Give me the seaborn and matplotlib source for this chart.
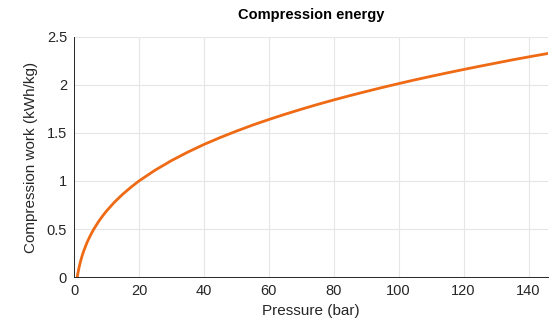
import matplotlib
matplotlib.use("Agg")
import matplotlib.pyplot as plt
import seaborn as sns
import pandas as pd

pressure_bar = [1, 1.2, 1.5, 2, 2.5, 3, 4, 5, 6, 7.5, 8.5, 10, 12.5, 15, 17.5, 20,
                25, 30, 35, 40, 45, 50, 55, 60, 65, 70, 75, 80, 85, 90, 95, 100,
                105, 110, 115, 120, 125, 130, 135, 140, 147]
work_kwh_kg = [0.0, 0.039, 0.091, 0.162, 0.221, 0.272, 0.359, 0.430, 0.493, 0.574,
               0.622, 0.687, 0.781, 0.862, 0.934, 1.000, 1.113, 1.212, 1.300,
               1.380, 1.452, 1.519, 1.582, 1.640, 1.695, 1.747, 1.797, 1.844,
               1.889, 1.932, 1.974, 2.014, 2.053, 2.090, 2.126, 2.161, 2.195,
               2.228, 2.261, 2.292, 2.334]
x_ticks = [0, 20, 40, 60, 80, 100, 120, 140]
y_ticks = [0, 0.5, 1, 1.5, 2, 2.5]
y_tick_labels = ["0", "0.5", "1", "1.5", "2", "2.5"]

df = pd.DataFrame({"Pressure (bar)": pressure_bar,
                   "Compression work (kWh/kg)": work_kwh_kg})

sns.set_style("white")
plt.rcParams["font.family"] = ["Liberation Sans", "DejaVu Sans"]

fig = plt.figure(figsize=(5.49, 3.24), dpi=100)
ax = fig.add_axes([0.1348, 0.145, 0.8634, 0.741])

sns.lineplot(data=df, x="Pressure (bar)", y="Compression work (kWh/kg)",
             ax=ax, color="#EE6A14", linewidth=2.0)

ax.set_xlim(0, 146)
ax.set_ylim(0, 2.5)
ax.set_xticks(x_ticks)
ax.set_yticks(y_ticks)
ax.set_yticklabels(y_tick_labels)
ax.grid(True, color="#e6e6e6", linewidth=0.8)
ax.set_axisbelow(True)
for s in ["top", "right"]:
    ax.spines[s].set_visible(False)
for s in ["left", "bottom"]:
    ax.spines[s].set_color("#262626")
    ax.spines[s].set_linewidth(0.7)
ax.tick_params(axis="both", direction="in", length=3, width=0.6,
               colors="#262626", labelsize=10.5, pad=5)
ax.set_xlabel("Pressure (bar)", fontsize=11, color="#262626", labelpad=4)
ax.set_ylabel("Compression work (kWh/kg)", fontsize=11, color="#262626", labelpad=6)
ax.set_title("Compression energy", fontsize=10.5, fontweight="bold", color="black", pad=13)

fig.savefig("out.png", dpi=100)
